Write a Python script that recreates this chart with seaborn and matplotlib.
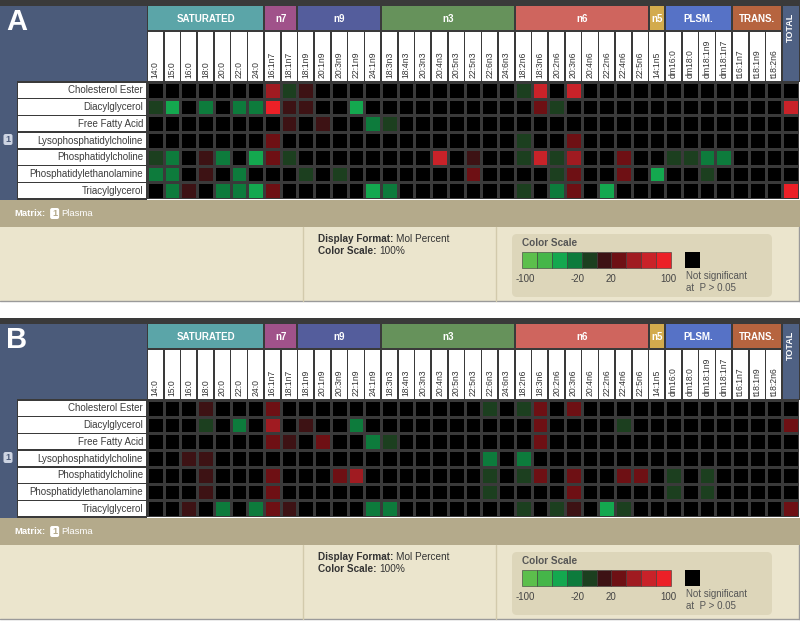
import numpy as np
import pandas as pd
import matplotlib
matplotlib.use("Agg")
import matplotlib.pyplot as plt
import seaborn as sns
from matplotlib.colors import ListedColormap, BoundaryNorm
from matplotlib.patches import Rectangle, FancyBboxPatch

sns.set_theme(style="white")
plt.rcParams['font.family'] = ['Liberation Sans', 'DejaVu Sans']

# ---------------- data ----------------
lipid_classes = ["Cholesterol Ester", "Diacylglycerol", "Free Fatty Acid",
                 "Lysophosphatidylcholine", "Phosphatidylcholine",
                 "Phosphatidylethanolamine", "Triacylglycerol"]

fatty_acids = ["14:0", "15:0", "16:0", "18:0", "20:0", "22:0", "24:0",
               "16:1n7", "18:1n7",
               "18:1n9", "20:1n9", "20:3n9", "22:1n9", "24:1n9",
               "18:3n3", "18:4n3", "20:3n3", "20:4n3", "20:5n3", "22:5n3", "22:6n3", "24:6n3",
               "18:2n6", "18:3n6", "20:2n6", "20:3n6", "20:4n6", "22:2n6", "22:4n6", "22:5n6",
               "14:1n5",
               "dm16:0", "dm18:0", "dm18:1n9", "dm18:1n7",
               "t16:1n7", "t18:1n9", "t18:2n6"]
columns = fatty_acids + ["TOTAL"]

group_names = ["SATURATED", "n7", "n9", "n3", "n6", "n5", "PLSM.", "TRANS."]
group_sizes = [7, 2, 5, 8, 8, 1, 4, 3]
group_colors = ["#5ba5a8", "#a0528a", "#545d9c", "#66925b", "#cf655e", "#d3ab4d", "#5672c6", "#b6643f"]

scale_colors = ["#5cbf4c", "#45b649", "#14a84f", "#0d7b3c", "#1c3f1f",
                "#3d1214", "#6e1014", "#a01b21", "#c92229", "#ec2027"]
scale_bounds = [-100, -84, -68, -52, -36, -20, 20, 36, 52, 68, 84, 100]
scale_tick_labels = ["-100", "-20", "20", "100"]

# percent change, 0 = not significant (P > 0.05)
#        SATURATED(7)            | n7     | n9(5)            | n3(8)                 | n6(8)                       | n5 | PLSM(4)        | TRANS(3)| TOTAL
panel_a_values = [
    [0, 0, 0, 0, 0, 0, 0,          60, -28, 28, 0, 0, 0, 0,     0, 0, 0, 0, 0, 0, 0, 0,  -28, 70, 0, 70, 0, 0, 0, 0,       0,  0, 0, 0, 0,        0, 0, 0,  0],
    [-28, -60, 0, -45, 0, -45, -45, 92, 28, 28, 0, 0, -60, 0,   0, 0, 0, 0, 0, 0, 0, 0,  0, 45, -28, 0, 0, 0, 0, 0,        0,  0, 0, 0, 0,        0, 0, 0,  70],
    [0, 0, 0, 0, 0, 0, 0,          0, 28,  0, 28, 0, 0, -45,    -28, 0, 0, 0, 0, 0, 0, 0, 0, 0, 0, 0, 0, 0, 0, 0,         0,  0, 0, 0, 0,        0, 0, 0,  0],
    [0, 0, 0, 0, 0, 0, 0,          45, 0,  0, 0, 0, 0, 0,       0, 0, 0, 0, 0, 0, 0, 0,  -28, 0, 0, 45, 0, 0, 0, 0,        0,  0, 0, 0, 0,        0, 0, 0,  0],
    [-28, -45, 0, 28, -45, 0, -60, 45, -28, 0, 0, 0, 0, 0,      0, 0, 0, 70, 0, 28, 0, 0, -28, 70, -28, 65, 0, 0, 45, 0,    0,  -28, -28, -45, -45, 0, 0, 0,  0],
    [-45, -45, 0, 28, 0, -45, 0,   0, 0,   -28, 0, -28, 0, 0,   0, 0, 0, 0, 0, 45, 0, 0, 0, 0, -28, 45, 0, 0, 45, 0,       -60, 0, 0, -28, 0,     0, 0, 0,  0],
    [0, -45, 28, 0, -45, -45, -60, 45, 0,  0, 0, 0, 0, -60,     -45, 0, 0, 0, 0, 0, 0, 0, -28, 0, -45, 45, 0, -60, 0, 0,    0,  0, 0, 0, 0,        0, 0, 0,  92],
]

panel_b_values = [
    [0, 0, 0, 28, 0, 0, 0,         45, 0,  0, 0, 0, 0, 0,       0, 0, 0, 0, 0, 0, -28, 0, -28, 45, 0, 45, 0, 0, 0, 0,      0,  0, 0, 0, 0,        0, 0, 0,  0],
    [0, 0, 0, -28, 0, -45, 0,      60, 0,  28, 0, 0, -45, 0,    0, 0, 0, 0, 0, 0, 0, 0,  0, 45, 0, 0, 0, 0, -28, 0,        0,  0, 0, 0, 0,        0, 0, 0,  45],
    [0, 0, 0, 0, 0, 0, 0,          45, 28, 0, 45, 0, 0, -45,    -28, 0, 0, 0, 0, 0, 0, 0, 0, 45, 0, 0, 0, 0, 0, 0,        0,  0, 0, 0, 0,        0, 0, 0,  0],
    [0, 0, 28, 28, 0, 0, 0,        0, 0,   0, 0, 0, 0, 0,       0, 0, 0, 0, 0, 0, -45, 0, -45, 0, 0, 0, 0, 0, 0, 0,       0,  0, 0, 0, 0,        0, 0, 0,  0],
    [0, 0, 0, 28, 0, 0, 0,         45, 0,  0, 0, 45, 60, 0,     0, 0, 0, 0, 0, 0, -28, 0, -28, 45, 0, 45, 0, 0, 45, 45,    0,  -28, 0, -28, 0,    0, 0, 0,  0],
    [0, 0, 0, 28, 0, 0, 0,         45, 0,  0, 0, 0, 0, 0,       0, 0, 0, 0, 0, 0, -28, 0, 0, 0, 0, 45, 0, 0, 0, 0,        0,  -28, 0, -28, 0,    0, 0, 0,  0],
    [0, 0, 28, 0, -45, 0, -45,     45, 28, 0, 0, 0, 0, -45,     -45, 0, 0, 0, 0, 0, 0, 0, -28, 0, -28, 28, 0, -60, -28, 0, 0,  0, 0, 0, 0,        0, 0, 0,  45],
]

# ---------------- layout ----------------
W, H = 800, 627
SLATE = "#4b5b7a"
DARK = "#3a3a3a"
fig = plt.figure(figsize=(8, 6.27), dpi=100)
fig.patch.set_facecolor("white")
bg = fig.add_axes([0, 0, 1, 1])
bg.set_xlim(0, W)
bg.set_ylim(H, 0)
bg.axis("off")
renderer = fig.canvas.get_renderer()

cmap = ListedColormap(scale_colors[:5] + ["#000000"] + scale_colors[5:])
norm = BoundaryNorm(scale_bounds, cmap.N)

X0, X1 = 147.0, 799.0
ncol = len(columns)
cw = (X1 - X0) / ncol


def rect(x0, y0, x1, y1, color, **kw):
    bg.add_patch(Rectangle((x0, y0), x1 - x0, y1 - y0, facecolor=color,
                           edgecolor=kw.pop("ec", "none"), **kw))


def badge(x, y, fc, tc):
    bg.add_patch(FancyBboxPatch((x, y), 9, 11, boxstyle="round,pad=0,rounding_size=2",
                                fc=fc, ec="none"))
    bg.text(x + 4.5, y + 5.8, "1", fontsize=6.5, fontweight="bold", color=tc,
            ha="center", va="center")


def text_end(txt):
    bb = txt.get_window_extent(renderer=renderer)
    inv = bg.transData.inverted()
    return inv.transform((bb.x1, bb.y0))[0]


def pair(x, y, bold_part, plain_part, size, color):
    t1 = bg.text(x, y, bold_part, fontsize=size, fontweight="bold", color=color,
                 ha="left", va="center")
    xe = text_end(t1)
    bg.text(xe + 3, y, plain_part, fontsize=size, color=color, ha="left", va="center")


def draw_panel(t, letter, values):
    # header backdrop
    rect(0, t, W, t + 82, DARK)
    rect(0, t + 6, X0, t + 81, SLATE)
    bg.text(17, t + 22, letter, fontsize=21, fontweight="bold", color="white",
            ha="center", va="center")
    # group bands
    start = 0
    for name, size, col in zip(group_names, group_sizes, group_colors):
        gx0 = X0 + start * cw + 1
        gx1 = X0 + (start + size) * cw - 1
        rect(gx0, t + 6, gx1, t + 30, col)
        bg.text((gx0 + gx1) / 2, t + 18.5, name, fontsize=7, fontweight="bold",
                color="white", ha="center", va="center")
        start += size
    # TOTAL header
    rect(X0 + (ncol - 1) * cw + 1, t + 6, X1, t + 81, "#4f6183")
    bg.text(X0 + (ncol - 0.5) * cw, t + 27, "TOTAL", rotation=90, fontsize=6.5,
            fontweight="bold", color="white", ha="center", va="center")
    # column labels
    for i, fa in enumerate(fatty_acids):
        rect(X0 + i * cw + 0.8, t + 32, X0 + (i + 1) * cw - 0.8, t + 80.5, "white")
        bg.text(X0 + (i + 0.5) * cw, t + 78, fa, rotation=90, ha="center", va="bottom",
                fontsize=6.2, color="#333333")
    # row labels
    rect(0, t + 81, 17, t + 199.5, SLATE)
    rect(17, t + 81, X0, t + 199.5, DARK)
    rh = (199 - 82) / len(lipid_classes)
    for j, name in enumerate(lipid_classes):
        rect(18, t + 82 + j * rh + 0.7, X0 - 0.8, t + 82 + (j + 1) * rh - 0.7, "white")
        bg.text(X0 - 4, t + 82 + (j + 0.5) * rh, name, ha="right", va="center",
                fontsize=7, color="#3c3c3c")
    badge(3.5, t + 134, "#cdd4e2", SLATE)
    # heatmap
    ax = fig.add_axes([X0 / W, 1 - (t + 199) / H, (X1 - X0) / W, (199 - 82) / H])
    df = pd.DataFrame(values, index=lipid_classes, columns=columns)
    sns.heatmap(df, ax=ax, cmap=cmap, norm=norm, cbar=False, linewidths=0.9,
                linecolor=DARK, xticklabels=False, yticklabels=False)
    ax.set_xlabel("")
    ax.set_ylabel("")
    # matrix bar
    rect(0, t + 199.5, W, t + 227, "#b4aa8b")
    mt = bg.text(14, t + 213.5, "Matrix:", fontsize=6.8, fontweight="bold", color="white",
                 ha="left", va="center")
    xe = text_end(mt)
    badge(xe + 5, t + 208, "white", "#b4aa8b")
    bg.text(xe + 16, t + 213.5, "Plasma", fontsize=6.8, color="white", ha="left", va="center")
    # info area
    rect(0, t + 227, W, t + 301, "#ebe5cd")
    bg.plot([0, W], [t + 301, t + 301], color="#9a9a9a", lw=1)
    bg.plot([W - 1, W - 1], [t + 227, t + 301], color="#9a9a9a", lw=1)
    for xd in (303, 496):
        bg.plot([xd, xd], [t + 227, t + 301], color="#d2caac", lw=1)
    pair(318, t + 239, "Display Format:", "Mol Percent", 7.2, "#333333")
    pair(318, t + 251, "Color Scale:", "100%", 7.2, "#333333")
    # color scale box
    bg.add_patch(FancyBboxPatch((512, t + 234), 260, 63, boxstyle="round,pad=0,rounding_size=5",
                                fc="#ddd6ba", ec="none"))
    bg.text(522, t + 243, "Color Scale", fontsize=7.2, fontweight="bold", color="#555555",
            ha="left", va="center")
    sw = (671 - 522) / len(scale_colors)
    for k, c in enumerate(scale_colors):
        rect(522 + k * sw, t + 252, 522 + (k + 1) * sw, t + 268, c, ec="#3a3a3a", lw=0.4)
    for lab, xl in zip(scale_tick_labels, [525, 578, 611, 668]):
        bg.text(xl, t + 279, lab, fontsize=7, color="#444444", ha="center", va="center")
    rect(685, t + 252, 700, t + 268, "#000000")
    bg.text(686, t + 276, "Not significant", fontsize=7, color="#555555", ha="left", va="center")
    bg.text(686, t + 288, "at  P > 0.05", fontsize=7, color="#555555", ha="left", va="center")


draw_panel(0, "A", panel_a_values)
draw_panel(318, "B", panel_b_values)

fig.savefig("out.png", dpi=100, facecolor="white")
